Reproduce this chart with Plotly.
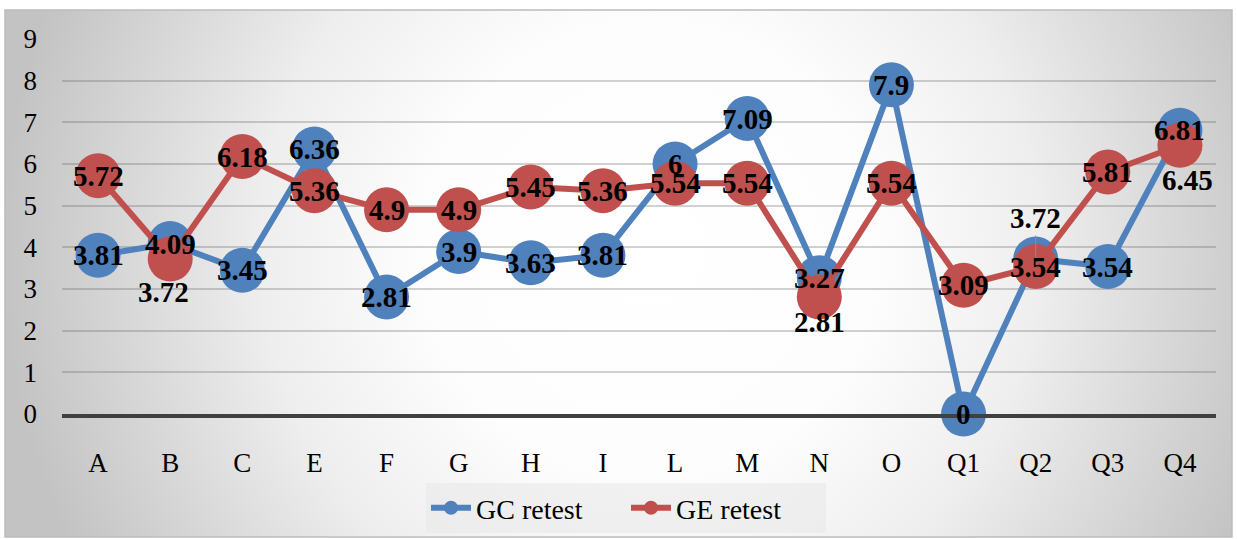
import base64
import plotly.graph_objects as go

# ---- data ----
categories = ["A", "B", "C", "E", "F", "G", "H", "I", "L", "M", "N", "O", "Q1", "Q2", "Q3", "Q4"]
gc_retest = [3.81, 4.09, 3.45, 6.36, 2.81, 3.9, 3.63, 3.81, 6, 7.09, 3.27, 7.9, 0, 3.72, 3.54, 6.81]
ge_retest = [5.72, 3.72, 6.18, 5.36, 4.9, 4.9, 5.45, 5.36, 5.54, 5.54, 2.81, 5.54, 3.09, 3.54, 5.81, 6.45]
y_ticks = [0, 1, 2, 3, 4, 5, 6, 7, 8, 9]

BLUE = "#4F81BD"
RED = "#C0504D"
FONT = "Liberation Serif"

# figure geometry (pixels)
W, H = 1237, 539
ML, MR, MT, MB = 62, 21, 39, 125
PW, PH = W - ML - MR, H - MT - MB


def px_to_paper_x(px):
    return (px - ML) / PW


def px_to_paper_y(py):
    return (H - MB - py) / PH


# radial-gradient chart background
box_l, box_t, box_r, box_b = 5, 10, 1232, 537
bw, bh = box_r - box_l, box_b - box_t
svg = f"""<svg xmlns='http://www.w3.org/2000/svg' width='{bw}' height='{bh}' viewBox='0 0 {bw} {bh}' preserveAspectRatio='none'>
<defs><radialGradient id='g' gradientUnits='userSpaceOnUse' cx='645' cy='240' r='650'>
<stop offset='0' stop-color='#ffffff'/>
<stop offset='0.35' stop-color='#fdfdfd'/>
<stop offset='0.6' stop-color='#eeeeee'/>
<stop offset='1' stop-color='#c3c3c3'/>
</radialGradient></defs>
<rect x='0' y='0' width='{bw}' height='{bh}' fill='url(#g)'/>
</svg>"""
bg_uri = "data:image/svg+xml;base64," + base64.b64encode(svg.encode()).decode()

fig = go.Figure()

series = [("GC retest", gc_retest, BLUE), ("GE retest", ge_retest, RED)]

for name, vals, color in series:
    fig.add_trace(go.Scatter(
        x=categories, y=vals, mode="lines+markers", name=name,
        line=dict(color=color, width=6),
        marker=dict(color=color, size=45),
        cliponaxis=False, showlegend=False, hoverinfo="x+y+name",
    ))

# legend entries with compact symbols
for name, vals, color in series:
    fig.add_trace(go.Scatter(
        x=[None], y=[None], mode="lines+markers", name=name,
        line=dict(color=color, width=6),
        marker=dict(color=color, size=14),
        showlegend=True,
    ))

# data labels: centred on the points unless moved (pixel offsets)
label_offsets = {
    ("GE retest", "B"): (-7, -33),
    ("GE retest", "N"): (0, -25),
    ("GE retest", "Q4"): (8, -35),
}
leader_labels = {("GC retest", "Q2"): -41}

LABEL_FONT = dict(family=FONT, size=29, color="black")

annotations = []
for name, vals, color in series:
    for cat, v in zip(categories, vals):
        txt = f"{v:g}"
        key = (name, cat)
        if key in leader_labels:
            annotations.append(dict(
                x=cat, y=v, text=f"<b>{txt}</b>", showarrow=True,
                ax=0, ay=leader_labels[key], arrowhead=0, arrowwidth=1,
                arrowcolor="#8c8c8c", standoff=0, font=LABEL_FONT,
            ))
        else:
            dx, dy = label_offsets.get(key, (0, 0))
            annotations.append(dict(
                x=cat, y=v, text=f"<b>{txt}</b>", showarrow=False,
                xshift=dx, yshift=dy, font=LABEL_FONT,
            ))

fig.update_layout(
    width=W, height=H,
    margin=dict(l=ML, r=MR, t=MT, b=MB),
    paper_bgcolor="white",
    plot_bgcolor="rgba(0,0,0,0)",
    font=dict(family=FONT, size=27, color="black"),
    xaxis=dict(
        type="category", categoryorder="array", categoryarray=categories,
        range=[-0.5, len(categories) - 0.5],
        showgrid=False, showline=True, linecolor="#404040", linewidth=4,
        ticks="", ticklabelstandoff=22, automargin=False,
        tickfont=dict(family=FONT, size=27, color="black"),
    ),
    yaxis=dict(
        range=[0, 9], tickvals=y_ticks, ticktext=[str(t) for t in y_ticks],
        showgrid=True, gridcolor="rgba(90,90,90,0.28)", gridwidth=1.5,
        zeroline=False, showline=False, ticks="", ticklabelstandoff=24,
        automargin=False,
        tickfont=dict(family=FONT, size=27, color="black"),
    ),
    legend=dict(
        orientation="h", xref="container", yref="container",
        x=626 / W, y=1 - 508 / H,
        xanchor="center", yanchor="middle",
        bgcolor="rgba(232,232,232,0.55)", borderwidth=0,
        font=dict(family=FONT, size=28, color="black"),
        itemwidth=40, entrywidth=145,
    ),
    images=[dict(
        source=bg_uri, xref="paper", yref="paper",
        x=px_to_paper_x(box_l), y=px_to_paper_y(box_t),
        sizex=bw / PW, sizey=bh / PH,
        xanchor="left", yanchor="top", sizing="stretch", layer="below",
    )],
    shapes=[dict(
        type="rect", xref="paper", yref="paper",
        x0=px_to_paper_x(box_l), x1=px_to_paper_x(box_r),
        y0=px_to_paper_y(box_b), y1=px_to_paper_y(box_t),
        line=dict(color="#bcbcbc", width=1.5), layer="below",
    )],
    annotations=annotations,
    showlegend=True,
)

fig.write_html("out.html")
